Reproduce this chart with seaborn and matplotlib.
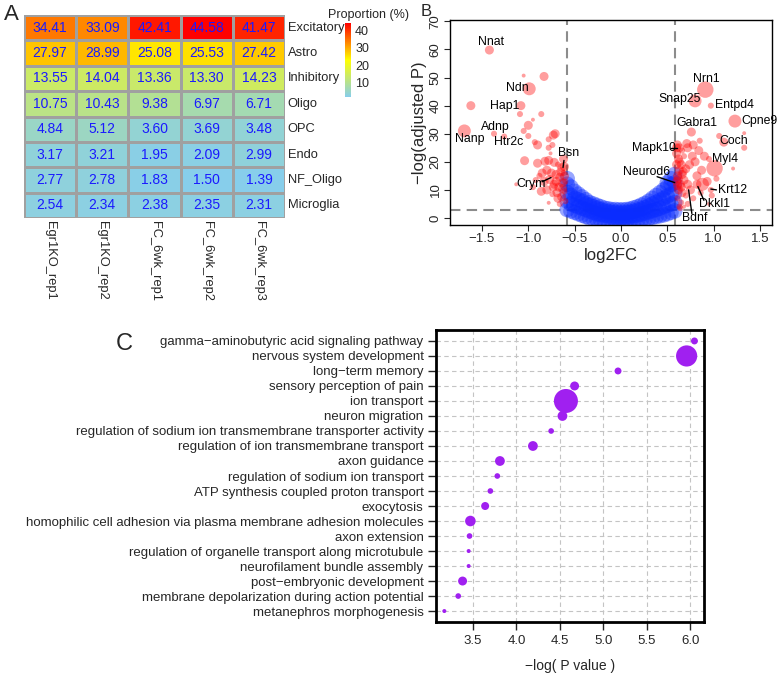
import numpy as np
import pandas as pd
import matplotlib
matplotlib.use("Agg")
import matplotlib.pyplot as plt
import seaborn as sns
from matplotlib.colors import LinearSegmentedColormap

# ---------------- data ----------------
cell_types = ["Excitatory", "Astro", "Inhibitory", "Oligo", "OPC", "Endo", "NF_Oligo", "Microglia"]
samples = ["Egr1KO_rep1", "Egr1KO_rep2", "FC_6wk_rep1", "FC_6wk_rep2", "FC_6wk_rep3"]
excitatory = [34.41, 33.09, 42.41, 44.58, 41.47]
astro = [27.97, 28.99, 25.08, 25.53, 27.42]
inhibitory = [13.55, 14.04, 13.36, 13.30, 14.23]
oligo = [10.75, 10.43, 9.38, 6.97, 6.71]
opc = [4.84, 5.12, 3.60, 3.69, 3.48]
endo = [3.17, 3.21, 1.95, 2.09, 2.99]
nf_oligo = [2.77, 2.78, 1.83, 1.50, 1.39]
microglia = [2.54, 2.34, 2.38, 2.35, 2.31]

# non-significant genes (blue cloud)
blue_x = ([-0.58] * 5 + [-0.54] * 4 + [-0.50] * 4 + [-0.46] * 4 + [-0.42] * 4 + [-0.38] * 4 +
          [-0.34] * 4 + [-0.30] * 4 + [-0.26] * 4 + [-0.22] * 4 + [-0.18] * 4 + [-0.14] * 4 +
          [-0.10] * 4 + [-0.06] * 4 + [-0.02] * 4 + [0.02] * 4 + [0.06] * 4 + [0.10] * 4 +
          [0.14] * 4 + [0.18] * 4 + [0.22] * 4 + [0.26] * 4 + [0.30] * 4 + [0.34] * 4 +
          [0.38] * 4 + [0.42] * 4 + [0.46] * 4 + [0.50] * 5 + [0.54] * 5 + [0.58] * 5)
blue_y = [3, 6, 9, 12, 14,
          2.5, 5, 8, 11,
          2, 4.5, 7, 9.5,
          1.5, 4, 6.5, 8.5,
          1, 3.5, 6, 7.5,
          0.5, 3, 5, 6.5,
          0, 2.5, 4.5, 5.5,
          -0.3, 2, 4, 5,
          -0.5, 1.5, 3.5, 4.5,
          -0.7, 1.2, 3, 4,
          -1, 1, 2.5, 3.5,
          -1.2, 0.8, 2.3, 3.3,
          -1.3, 0.5, 2, 3,
          -1.4, 0.5, 2, 3,
          -1.5, 0.4, 1.8, 2.9,
          -1.5, 0.4, 1.8, 2.9,
          -1.4, 0.5, 2, 3,
          -1.3, 0.6, 2.1, 3.2,
          -1.1, 0.8, 2.4, 3.6,
          -0.9, 1.1, 2.8, 4,
          -0.7, 1.4, 3.2, 4.6,
          -0.4, 1.8, 3.7, 5.2,
          -0.1, 2.2, 4.3, 6,
          0.2, 2.6, 5, 7,
          0.5, 3, 5.6, 8,
          0.8, 3.5, 6.3, 9,
          1.1, 4, 7, 10,
          1.5, 4.5, 7.8, 11, 12.5,
          2, 5, 8.5, 12, 14,
          2.5, 5.5, 9, 12.5, 15.5]

# significant genes (red)
red_x = [-1.42, -1.05, -0.83, -0.99, -1.62, -1.08, -1.09, -0.86, -0.95, -1.00, -1.05, -1.00,
         -1.69, -1.37, -1.26, -0.93, -0.90, -0.71, -0.73, -0.78, -0.74, -0.78, -0.76, -0.61,
         -1.04, -0.90, -0.82, -0.78, -0.72, -0.68, -0.64, -0.85, -0.80, -0.75, -0.70, -0.66,
         -0.62, -0.88, -0.92, -0.83, -0.77, -0.72, -0.67, -0.63, -0.80, -0.86, -0.74, -0.69,
         -0.64, -0.61, -0.66, -0.78, -1.13, -0.95, -0.62, -0.60, -0.60,
         -0.65, -0.70, -0.63, -0.68, -0.73, -0.61,
         0.91, 0.80, 0.97, 1.23, 1.33, 1.06, 1.11, 1.33, 0.76, 1.01, 1.21, 0.97, 0.88,
         0.61, 0.63, 0.66, 0.71, 0.72, 0.60, 0.62, 0.65, 0.68, 0.60, 0.63, 0.66, 0.61, 0.70,
         0.74, 0.60, 0.64, 0.68, 0.72, 0.62, 0.66, 0.70, 0.75, 0.61, 0.65, 0.63, 0.68, 0.72,
         0.78, 0.82, 0.80, 0.84, 0.78, 0.90, 0.87, 0.95, 0.85, 0.93, 1.03, 0.95, 0.98, 0.86,
         0.77, 0.82, 0.60, 0.64, 0.62, 0.65, 0.61, 0.67, 0.63]
red_y = [59.8, 50.7, 50.4, 46.0, 40.0, 40.0, 37.0, 37.0, 35.0, 33.0, 31.0, 29.2,
         31.0, 30.0, 29.0, 27.0, 26.0, 30.0, 29.5, 28.0, 26.0, 25.0, 23.0, 18.3,
         20.4, 19.5, 20.2, 20.5, 19.8, 19.0, 18.0, 16.0, 17.0, 16.0, 15.5, 14.5,
         16.0, 15.0, 13.5, 13.0, 13.7, 12.0, 11.0, 12.5, 10.0, 9.5, 8.5, 9.0,
         7.5, 9.5, 5.0, 5.4, 12.0, 11.0, 21.0, 6.0, 13.0,
         16.5, 13.0, 10.5, 7.0, 11.0, 15.0,
         45.7, 41.7, 40.0, 34.5, 30.2, 29.2, 27.0, 25.0, 30.6, 17.7, 17.6, 10.0, 12.0,
         26.0, 25.0, 24.0, 26.5, 25.0, 23.0, 21.0, 19.0, 22.0, 19.0, 17.0, 15.5, 15.0, 17.5,
         19.0, 13.0, 12.0, 13.5, 12.0, 10.0, 9.0, 8.0, 10.0, 7.0, 5.5, 4.0, 4.0, 5.0,
         7.0, 15.0, 20.0, 24.0, 26.0, 22.0, 17.0, 21.0, 27.5, 13.0, 14.0, 5.0, 8.0, 9.0,
         22.0, 12.0, 25.0, 3.5, 14.0, 11.0, 11.5, 16.5, 20.0]
red_level = [3, 1, 3, 4, 3, 3, 2, 2, 1, 3, 2, 2,
             4, 2, 2, 2, 3, 3, 3, 2, 2, 2, 1, 3,
             3, 3, 3, 3, 3, 2, 3, 3, 3, 3, 3, 3,
             2, 2, 2, 3, 3, 3, 3, 3, 3, 3, 2, 3,
             3, 2, 2, 1, 1, 2, 3, 2, 2,
             3, 3, 3, 3, 3, 3,
             5, 4, 2, 4, 1, 2, 3, 2, 3, 5, 1, 2, 4,
             3, 3, 2, 3, 3, 3, 3, 3, 2, 3, 3, 3, 3, 3,
             3, 3, 3, 3, 3, 3, 3, 2, 3, 2, 2, 2, 1, 2,
             2, 3, 3, 3, 3, 3, 3, 2, 2, 3, 2, 1, 2, 2,
             3, 3, 3, 2, 3, 3, 3, 3, 3]

gene_labels = ["Nnat", "Ndn", "Hap1", "Adnp", "Nanp", "Htr2c", "Bsn", "Crym", "Nrn1", "Snap25",
               "Entpd4", "Cpne9", "Gabra1", "Coch", "Mapk10", "Myl4", "Neurod6", "Krt12", "Dkkl1", "Bdnf"]

go_terms = ["gamma\u2212aminobutyric acid signaling pathway", "nervous system development",
            "long\u2212term memory", "sensory perception of pain", "ion transport", "neuron migration",
            "regulation of sodium ion transmembrane transporter activity",
            "regulation of ion transmembrane transport", "axon guidance",
            "regulation of sodium ion transport", "ATP synthesis coupled proton transport",
            "exocytosis", "homophilic cell adhesion via plasma membrane adhesion molecules",
            "axon extension", "regulation of organelle transport along microtubule",
            "neurofilament bundle assembly", "post\u2212embryonic development",
            "membrane depolarization during action potential", "metanephros morphogenesis"]
go_logp = [6.05, 5.96, 5.17, 4.67, 4.57, 4.53, 4.40, 4.19, 3.81, 3.78, 3.70, 3.64,
           3.47, 3.46, 3.45, 3.45, 3.38, 3.33, 3.17]
go_count = [3, 28, 3, 5, 36, 6, 2, 6, 6, 2, 2, 4, 7, 2, 1, 1, 5, 2, 1]

# ---------------- figure ----------------
sns.set_theme(style="white")
plt.rcParams['font.family'] = ['Liberation Sans', 'DejaVu Sans']

W, H = 778, 676
fig = plt.figure(figsize=(W / 100, H / 100), dpi=100)


def rect(l, t, r, b):
    return [l / W, 1 - b / H, (r - l) / W, (b - t) / H]


# ---- Panel A: heatmap ----
df = pd.DataFrame([excitatory, astro, inhibitory, oligo, opc, endo, nf_oligo, microglia],
                  index=cell_types, columns=samples)
cmap = LinearSegmentedColormap.from_list("prop", ["#87CEEB", "#FFFF00", "#FF0000"])
axA = fig.add_axes(rect(24, 15, 285, 218))
cax = fig.add_axes(rect(345, 23, 351, 97))
sns.heatmap(df, ax=axA, cmap=cmap, vmin=df.values.min(), vmax=df.values.max(),
            annot=True, fmt=".2f", annot_kws={"color": "#1a1aff", "fontsize": 10},
            linewidths=0.8, linecolor="#a0a0a0", cbar_ax=cax)
axA.yaxis.tick_right()
axA.set_yticklabels(cell_types, rotation=0, fontsize=9.3, va="center")
axA.set_xticklabels(samples, rotation=-90, fontsize=9.3, ha="center", va="top")
axA.tick_params(length=0, pad=2)
axA.set_xlabel("")
axA.set_ylabel("")
cbar = axA.collections[0].colorbar
cbar.outline.set_visible(False)
cbar.set_ticks([10, 20, 30, 40])
cbar.ax.tick_params(length=0, labelsize=9, pad=3)
fig.text(368 / W, 1 - 15 / H, "Proportion (%)", ha="center", va="center", fontsize=9)
fig.text(4 / W, 1 - 14 / H, "A", ha="left", va="center", fontsize=16)

# ---- Panel B: volcano ----
axB = fig.add_axes(rect(450, 20, 772, 225))
sns.scatterplot(x=blue_x, y=blue_y, ax=axB, color="#0a2cff", alpha=0.42, s=125,
                edgecolor="none", legend=False)
red_df = pd.DataFrame({"log2FC": red_x, "nlp": red_y, "lvl": red_level})
sns.scatterplot(data=red_df, x="log2FC", y="nlp", size="lvl", ax=axB, color="#ff0000",
                alpha=0.38, edgecolor="none", legend=False,
                sizes={1: 8, 2: 19, 3: 42, 4: 87, 5: 140})
dash = dict(color="#8c8c8c", lw=1.5, linestyle=(0, (5, 3)), zorder=0.5)
axB.axvline(-0.585, **dash)
axB.axvline(0.585, **dash)
axB.axhline(3.0, **dash)
axB.set_xlim(-1.845, 1.63)
axB.set_ylim(-2.5, 70.5)
axB.set_xticks([-1.5, -1.0, -0.5, 0.0, 0.5, 1.0, 1.5])
axB.set_xticklabels(["\u22121.5", "\u22121.0", "\u22120.5", "0.0", "0.5", "1.0", "1.5"])
axB.set_yticks(range(0, 71, 10))
for lab in axB.get_yticklabels():
    lab.set_rotation(90)
    lab.set_va("center")
axB.tick_params(direction="out", length=4, width=0.8, labelsize=9.5, pad=2,
                bottom=True, left=True)
for sp in axB.spines.values():
    sp.set_linewidth(1.0)
    sp.set_color("black")
axB.set_xlabel("log2FC", fontsize=12, labelpad=2)
axB.set_ylabel("\u2212log(adjusted P)", fontsize=12, labelpad=2)

label_pos = {"Nnat": (-1.40, 62.8), "Ndn": (-1.12, 46.3), "Hap1": (-1.25, 40.0),
             "Adnp": (-1.36, 32.4), "Nanp": (-1.63, 28.0), "Htr2c": (-1.21, 26.9),
             "Bsn": (-0.57, 23.0), "Crym": (-0.97, 12.2), "Nrn1": (0.92, 49.5),
             "Snap25": (0.63, 42.4), "Entpd4": (1.23, 40.2), "Cpne9": (1.50, 34.4),
             "Gabra1": (0.82, 33.7), "Coch": (1.22, 27.3), "Mapk10": (0.36, 24.8),
             "Myl4": (1.12, 21.1), "Neurod6": (0.28, 16.5), "Krt12": (1.20, 10.0),
             "Dkkl1": (1.01, 5.0), "Bdnf": (0.80, 0.0)}
for g in gene_labels:
    gx, gy = label_pos[g]
    axB.text(gx, gy, g, ha="center", va="center", fontsize=8.8, color="black")
segs = [((-0.615, 20.5), (-0.625, 18.0)), ((-0.85, 12.9), (-0.755, 14.4)),
        ((0.39, 14.7), (0.58, 12.6)), ((0.54, 24.8), (0.60, 24.8)),
        ((0.765, 1.6), (0.73, 10.0)), ((0.895, 6.3), (0.83, 11.2)),
        ((0.97, 10.3), (1.03, 10.0))]
for (x0, y0), (x1, y1) in segs:
    axB.plot([x0, x1], [y0, y1], color="black", lw=1.0)
fig.text(421 / W, 1 - 11 / H, "B", ha="left", va="center", fontsize=12)

# ---- Panel C: GO dot plot ----
axC = fig.add_axes(rect(436, 330, 704, 622))
go_df = pd.DataFrame({"term": go_terms, "logp": go_logp, "count": go_count,
                      "row": np.arange(len(go_terms))})
sns.scatterplot(data=go_df, x="logp", y="row", size="count", ax=axC, color="#A020F0",
                edgecolor="none", legend=False, sizes=(8.3, 8.3 * 36), size_norm=(1, 36),
                zorder=3)
axC.set_yticks(go_df["row"])
axC.set_yticklabels(go_terms, fontsize=9.5)
axC.set_ylim(len(go_terms) - 1 + 0.73, -0.73)
axC.set_xlim(3.074, 6.16)
axC.set_xticks([3.5, 4.0, 4.5, 5.0, 5.5, 6.0])
axC.set_xticklabels(["3.5", "4.0", "4.5", "5.0", "5.5", "6.0"])
axC.grid(True, linestyle=(0, (4, 3)), color="#c4c4c4", lw=0.8)
axC.set_axisbelow(True)
axC.tick_params(direction="out", length=6, width=1.0, labelsize=9.5, pad=3,
                bottom=True, left=True)
for sp in axC.spines.values():
    sp.set_linewidth(2.0)
    sp.set_color("black")
axC.set_xlabel("\u2212log( P value )", fontsize=10, labelpad=9)
axC.set_ylabel("")
fig.text(116 / W, 1 - 344 / H, "C", ha="left", va="center", fontsize=17)

fig.savefig("out.png", dpi=100)
